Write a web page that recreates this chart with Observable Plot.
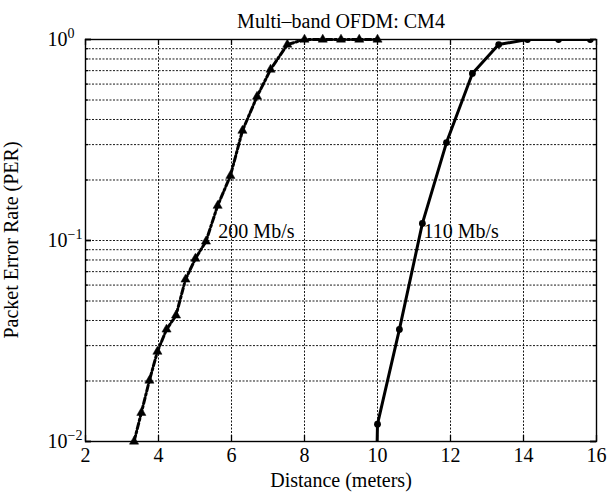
<!DOCTYPE html>
<html><head><meta charset="utf-8">
<script src="https://cdn.jsdelivr.net/npm/d3@7"></script>
<script src="https://cdn.jsdelivr.net/npm/@observablehq/plot@0.6"></script>
<style>body{margin:0;background:#fff} svg{display:block}</style>
</head><body><div id="chart"></div>
<script>
const title = "Multi–band OFDM: CM4";
const xLabel = "Distance (meters)";
const yLabel = "Packet Error Rate (PER)";

// 200 Mb/s series (triangles, dash-dot)
const dist200 = [3.33, 3.53, 3.75, 3.97, 4.22, 4.48, 4.74, 5.01, 5.30, 5.62, 5.97, 6.30, 6.70, 7.07, 7.53, 8.0, 8.5, 9.0, 9.5, 10.0];
const per200  = [0.0100, 0.0139, 0.0201, 0.0280, 0.0361, 0.0424, 0.064, 0.0813, 0.0989, 0.149, 0.210, 0.352, 0.520, 0.709, 0.944, 1, 1, 1, 1, 1];

// 110 Mb/s series (circles, solid)
const dist110 = [9.98, 10.0, 10.6, 11.23, 11.89, 12.60, 13.32, 14.11, 14.96, 15.83];
const per110  = [0.008, 0.0122, 0.0361, 0.1216, 0.307, 0.678, 0.944, 1, 1, 1];

const seriesLabels = ["200 Mb/s", "110 Mb/s"];
const labelX = [5.64, 11.26];
const labelY = [0.111, 0.111];

const xTicks = [2, 4, 6, 8, 10, 12, 14, 16];
const xGrid = [4, 6, 8, 10, 12, 14];
const yMajor = [0.01, 0.1, 1];
const yMajorLabels = ["10^−2", "10^−1", "10^0"];
const yMinor = [0.02, 0.03, 0.04, 0.05, 0.06, 0.07, 0.08, 0.09, 0.2, 0.3, 0.4, 0.5, 0.6, 0.7, 0.8, 0.9];

const d200 = dist200.map((x, i) => ({x, y: per200[i]}));
const d110 = dist110.map((x, i) => ({x, y: per110[i]}));

const W = 613, H = 498, mL = 85, mR = 17, mT = 39, mB = 57;
const fw = W - mL - mR, fh = H - mT - mB;
const gridStyle = {stroke: "black", strokeWidth: 1, strokeDasharray: "2,1.5", strokeOpacity: 0.9};
const FONT = 20;

const svg = Plot.plot({
  width: W, height: H,
  marginLeft: mL, marginRight: mR, marginTop: mT, marginBottom: mB,
  style: {fontFamily: "'Liberation Serif', 'Times New Roman', serif", background: "white", color: "black"},
  x: {domain: [2, 16], axis: null},
  y: {type: "log", domain: [0.01, 1], axis: null},
  marks: [
    Plot.ruleX(xGrid, {x: d => d, ...gridStyle}),
    Plot.ruleY([...yMinor, 0.1], {y: d => d, ...gridStyle}),
    // inside ticks
    Plot.ruleX(xTicks, {x: d => d, insetTop: fh - 6, stroke: "black", strokeWidth: 1.3}),
    Plot.ruleX(xTicks, {x: d => d, insetBottom: fh - 6, stroke: "black", strokeWidth: 1.3}),
    Plot.ruleY(yMinor, {y: d => d, insetRight: fw - 3, stroke: "black", strokeWidth: 1.3}),
    Plot.ruleY(yMinor, {y: d => d, insetLeft: fw - 3, stroke: "black", strokeWidth: 1.3}),
    Plot.ruleY(yMajor, {y: d => d, insetRight: fw - 6, stroke: "black", strokeWidth: 1.8}),
    Plot.ruleY(yMajor, {y: d => d, insetLeft: fw - 6, stroke: "black", strokeWidth: 1.8}),
    Plot.frame({stroke: "black", strokeWidth: 1.4}),
    // series
    Plot.line(d200, {x: "x", y: "y", stroke: "black", strokeWidth: 3, strokeDasharray: "6,2.5,2,2.5"}),
    Plot.dot(d200, {x: "x", y: "y", symbol: "triangle", r: 3.4, fill: "black", stroke: "black", strokeWidth: 0.5}),
    Plot.line(d110, {x: "x", y: "y", stroke: "black", strokeWidth: 3, clip: true}),
    Plot.dot(d110, {x: "x", y: "y", r: 3.4, fill: "black", stroke: "none", clip: true}),
    Plot.text(seriesLabels, {x: (d, i) => labelX[i], y: (d, i) => labelY[i], text: d => d, textAnchor: "start", fontSize: FONT, fill: "black"}),
    // tick labels
    Plot.text(xTicks, {x: d => d, frameAnchor: "bottom", dy: 20, text: d => String(d), fontSize: FONT, fill: "black"}),
    Plot.text(yMajor, {y: d => d, frameAnchor: "left", dx: -38, text: (d, i) => yMajorLabels[i], textAnchor: "start", fontSize: FONT, fill: "black"}),
    // titles
    Plot.text([xLabel], {frameAnchor: "bottom", dy: 45, text: d => d, fontSize: FONT, fill: "black"}),
    Plot.text([title], {frameAnchor: "top", dy: -26, text: d => d, fontSize: FONT, fill: "black"})
  ]
});

d3.select(svg).selectAll("text").each(function() {
  const t = this.textContent;
  if (t.includes("^")) {
    const [b, e] = t.split("^");
    const s = d3.select(this);
    s.text(null);
    s.append("tspan").text(b);
    s.append("tspan").attr("dy", "-0.55em").attr("font-size", "0.7em").text(e);
  }
});

// rotated y-axis label, centred on the frame
d3.select(svg).append("text")
  .attr("transform", `translate(${mL - 73},${mT + fh / 2}) rotate(-90)`)
  .attr("text-anchor", "middle")
  .attr("dy", "0.32em")
  .attr("font-size", FONT)
  .attr("fill", "black")
  .text(yLabel);

document.getElementById("chart").appendChild(svg);
</script>
</body></html>
